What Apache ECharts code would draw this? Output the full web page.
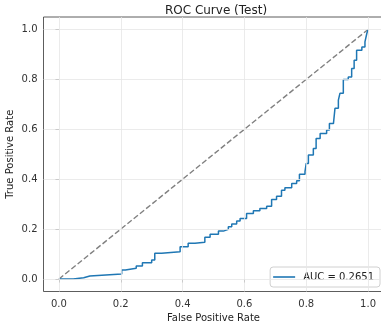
<!DOCTYPE html>
<html>
<head>
<meta charset="utf-8">
<script src="https://cdn.jsdelivr.net/npm/echarts@6/dist/echarts.min.js"></script>
<style>
  html, body { margin: 0; padding: 0; background: #fff; }
  #chart { width: 381px; height: 330px; }
</style>
</head>
<body>
<div id="chart"></div>
<script>
// ROC curve points on the test set (false positive rate, true positive rate)
var fpr = [0, 0.046, 0.08, 0.10, 0.203, 0.215, 0.25, 0.27, 0.30, 0.31, 0.332, 0.392,
  0.418, 0.44, 0.472, 0.489, 0.516, 0.532, 0.548, 0.559, 0.575, 0.586, 0.607, 0.629,
  0.65, 0.672, 0.688, 0.704, 0.72, 0.731, 0.753, 0.769, 0.778, 0.796, 0.80, 0.807,
  0.823, 0.832, 0.845, 0.866, 0.875, 0.888, 0.893, 0.904, 0.909, 0.92, 0.936, 0.947,
  0.955, 0.963, 0.98, 0.99, 0.996, 1.0];
var tpr = [0, 0.005, 0.012, 0.02, 0.036, 0.043, 0.052, 0.065, 0.076, 0.103, 0.109, 0.129,
  0.143, 0.147, 0.167, 0.179, 0.192, 0.199, 0.209, 0.22, 0.233, 0.243, 0.263, 0.274,
  0.283, 0.292, 0.319, 0.332, 0.356, 0.366, 0.383, 0.394, 0.42, 0.43, 0.463, 0.497,
  0.523, 0.563, 0.583, 0.597, 0.623, 0.63, 0.684, 0.717, 0.744, 0.80, 0.81, 0.844,
  0.877, 0.917, 0.93, 0.95, 0.984, 1.0];
var aucValue = 0.2651;
var tickValues = [0, 0.2, 0.4, 0.6, 0.8, 1.0];
var chanceLine = [[0, 0], [1, 1]];

var rocName = 'AUC = ' + aucValue.toFixed(4);
var rocData = fpr.map(function (x, i) { return [x, tpr[i]]; });
var font = 'DejaVu Sans';

function axisCfg(name, nameGap, nameRotate, labelMargin) {
  return {
    type: 'value',
    min: -0.05,
    max: 1.05,
    name: name,
    nameLocation: 'middle',
    nameGap: nameGap,
    nameRotate: nameRotate,
    nameMoveOverlap: false,
    nameTextStyle: { fontFamily: font, fontSize: 10, color: '#222' },
    axisLine: { show: false },
    axisTick: { show: true, inside: false, length: 3.5, customValues: tickValues,
      lineStyle: { color: '#333', width: 0.8 } },
    axisLabel: { customValues: tickValues, fontFamily: font, fontSize: 10, color: '#333',
      margin: labelMargin,
      formatter: function (v) { return v.toFixed(1); } },
    splitLine: { show: false }
  };
}

var chart = echarts.init(document.getElementById('chart'), null, { renderer: 'canvas' });
chart.setOption({
  animation: false,
  backgroundColor: '#fff',
  title: {
    text: 'ROC Curve (Test)',
    left: 211,
    textAlign: 'center',
    top: 0,
    textStyle: { fontFamily: font, fontSize: 12, fontWeight: 'normal', color: '#222' }
  },
  grid: {
    left: 43.5, top: 17, right: -2.5, bottom: 38.5,
    containLabel: false,
    outerBoundsMode: 'none',
    show: true, borderColor: '#333', borderWidth: 0.8, backgroundColor: 'transparent'
  },
  legend: {
    data: [{ name: rocName, icon: 'rect' }],
    right: 1,
    bottom: 43,
    orient: 'vertical',
    backgroundColor: '#fff',
    borderColor: '#d0d0d0',
    borderWidth: 1,
    borderRadius: 3,
    padding: [5, 6, 5, 3],
    itemWidth: 22,
    itemHeight: 1.6,
    itemGap: 4,
    textStyle: { fontFamily: font, fontSize: 10, color: '#222', padding: [0, 0, 0, 3] }
  },
  xAxis: axisCfg('False Positive Rate', 22, 0, 8),
  yAxis: axisCfg('True Positive Rate', 28, 90, 6),
  series: [
    {
      // light grid lines at the tick positions
      type: 'line', silent: true, data: [], symbol: 'none',
      markLine: {
        silent: true, symbol: 'none', label: { show: false },
        lineStyle: { color: '#e6e6e6', width: 0.8, type: 'solid' },
        data: tickValues.map(function (v) { return { xAxis: v }; })
          .concat(tickValues.map(function (v) { return { yAxis: v }; }))
      },
      z: 1
    },
    {
      name: 'chance',
      type: 'line',
      data: chanceLine,
      symbol: 'none',
      lineStyle: { color: '#808080', width: 1.4, type: [5.5, 2.5] },
      z: 2
    },
    {
      name: rocName,
      type: 'line',
      step: 'end',
      data: rocData,
      symbol: 'none',
      color: '#1f77b4',
      lineStyle: { color: '#1f77b4', width: 1.5 },
      z: 3
    }
  ]
});
</script>
</body>
</html>
